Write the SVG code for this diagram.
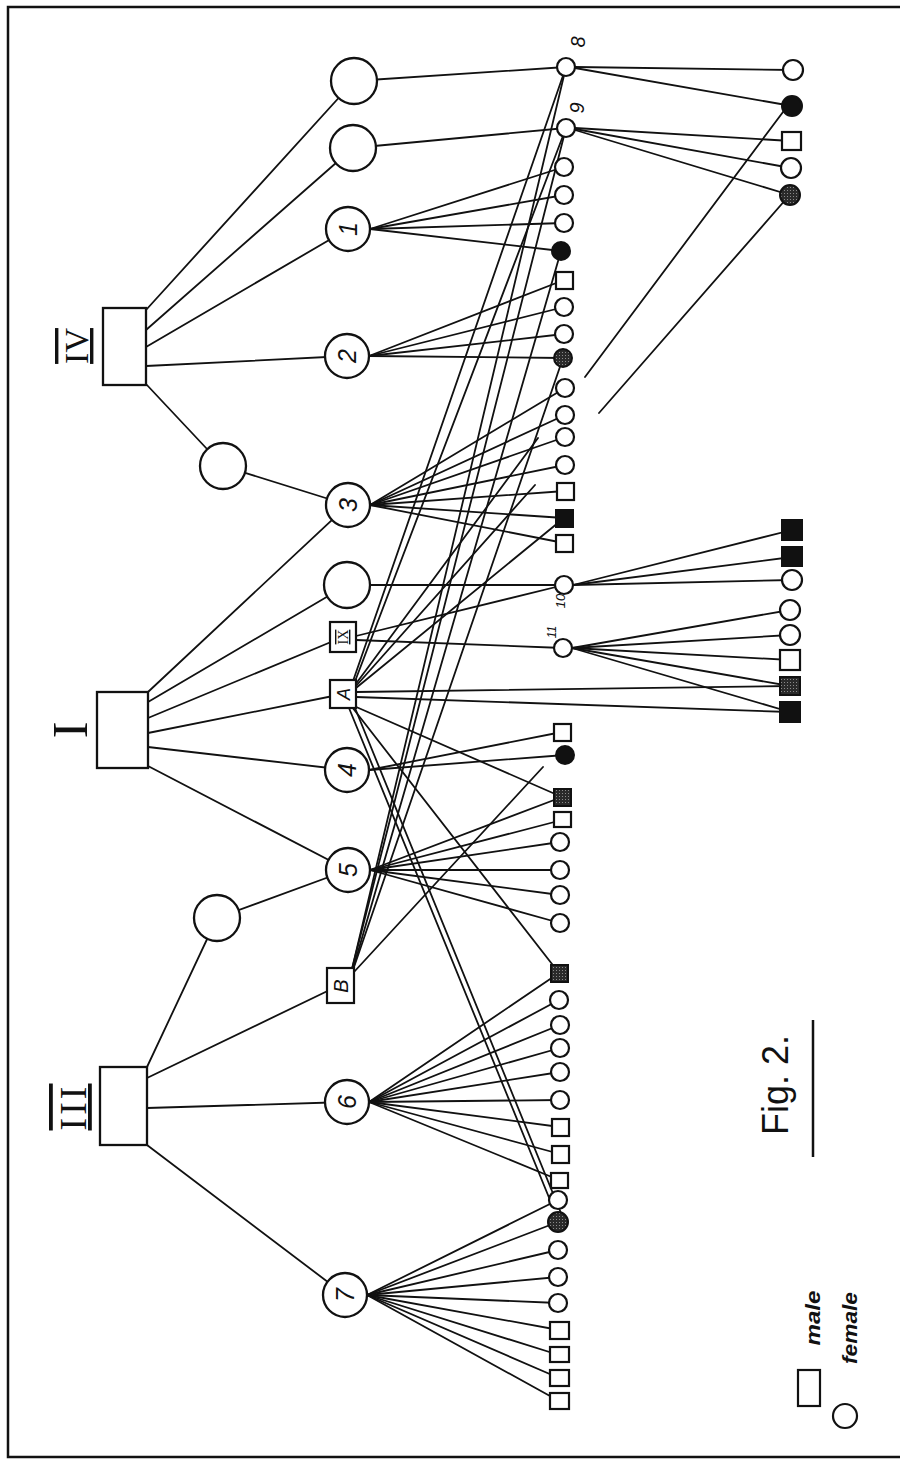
<svg xmlns="http://www.w3.org/2000/svg" width="902" height="1461" viewBox="0 0 902 1461">
<defs>
<pattern id="stip" width="3" height="3" patternUnits="userSpaceOnUse">
<rect width="3" height="3" fill="#2a2a2a"/>
<rect x="1" y="1" width="1" height="1" fill="#8a8a8a"/>
</pattern>
<style>
.ln{stroke:#111;stroke-width:1.8;fill:none;stroke-linecap:round}
.nd{fill:#fff;stroke:#111;stroke-width:2.3}
.sm{fill:#fff;stroke:#111;stroke-width:2.2}
.fl{fill:#111;stroke:#111;stroke-width:2}
.ht{fill:url(#stip);stroke:#111;stroke-width:2}
.rom{font-family:"Liberation Serif",serif;fill:#111;text-anchor:middle}
.hw{font-family:"Liberation Sans",sans-serif;font-style:italic;fill:#111;text-anchor:middle}
.up{font-family:"Liberation Sans",sans-serif;font-style:normal;fill:#111;text-anchor:middle}
.bar{text-decoration:overline underline}
.frame{fill:none;stroke:#111;stroke-width:2.5}
</style>
</defs>
<rect width="902" height="1461" fill="#fff"/>
<path class="frame" d="M900 7 L8 7 L8 1457 L900 1457"/>

<g id="connectors" class="ln">
<!-- generation IV -->
<line x1="146" y1="310" x2="354" y2="81"/>
<line x1="146" y1="330" x2="353" y2="148"/>
<line x1="146" y1="347" x2="348" y2="229"/>
<line x1="146" y1="366" x2="347" y2="356"/>
<line x1="146" y1="384" x2="223" y2="466"/>
<line x1="223" y1="466" x2="348" y2="505"/>
<!-- generation I -->
<line x1="148" y1="692" x2="348" y2="505"/>
<line x1="148" y1="702" x2="347" y2="585"/>
<line x1="148" y1="718" x2="343" y2="637"/>
<line x1="148" y1="733" x2="343" y2="694"/>
<line x1="148" y1="747" x2="347" y2="770"/>
<line x1="148" y1="766" x2="348" y2="870"/>
<line x1="217" y1="918" x2="348" y2="870"/>
<line x1="217" y1="918" x2="147" y2="1067"/>
<!-- generation III -->
<line x1="147" y1="1078" x2="340" y2="985"/>
<line x1="147" y1="1108" x2="347" y2="1102"/>
<line x1="147" y1="1145" x2="345" y2="1295"/>
<!-- top circles to 8 and 9 -->
<line x1="354" y1="81" x2="566" y2="67"/>
<line x1="353" y1="148" x2="566" y2="128"/>
<!-- fan 1 -->
<line x1="370" y1="229" x2="564" y2="167"/>
<line x1="370" y1="229" x2="564" y2="195"/>
<line x1="370" y1="229" x2="564" y2="223"/>
<line x1="370" y1="229" x2="561" y2="251"/>
<!-- fan 2 -->
<line x1="369" y1="356" x2="564" y2="280"/>
<line x1="369" y1="356" x2="564" y2="307"/>
<line x1="369" y1="356" x2="564" y2="334"/>
<line x1="369" y1="356" x2="563" y2="358"/>
<!-- fan 3 -->
<line x1="370" y1="505" x2="565" y2="388"/>
<line x1="370" y1="505" x2="565" y2="415"/>
<line x1="370" y1="505" x2="565" y2="437"/>
<line x1="370" y1="505" x2="565" y2="465"/>
<line x1="370" y1="505" x2="565" y2="491"/>
<line x1="370" y1="505" x2="564" y2="518"/>
<line x1="370" y1="505" x2="564" y2="543"/>
<!-- unnamed circle and IX to 10 / 11 -->
<line x1="347" y1="585" x2="564" y2="585"/>
<line x1="356" y1="636" x2="564" y2="585"/>
<line x1="356" y1="640" x2="563" y2="648"/>
<!-- fan 4 -->
<line x1="369" y1="770" x2="562" y2="732"/>
<line x1="369" y1="770" x2="565" y2="755"/>
<!-- fan 5 -->
<line x1="370" y1="870" x2="562" y2="797"/>
<line x1="370" y1="870" x2="562" y2="820"/>
<line x1="370" y1="870" x2="560" y2="842"/>
<line x1="370" y1="870" x2="560" y2="870"/>
<line x1="370" y1="870" x2="560" y2="895"/>
<line x1="370" y1="870" x2="560" y2="923"/>
<!-- fan 6 -->
<line x1="369" y1="1102" x2="559" y2="973"/>
<line x1="369" y1="1102" x2="559" y2="1000"/>
<line x1="369" y1="1102" x2="560" y2="1025"/>
<line x1="369" y1="1102" x2="560" y2="1048"/>
<line x1="369" y1="1102" x2="560" y2="1072"/>
<line x1="369" y1="1102" x2="560" y2="1100"/>
<line x1="369" y1="1102" x2="560" y2="1127"/>
<line x1="369" y1="1102" x2="560" y2="1154"/>
<line x1="369" y1="1102" x2="559" y2="1180"/>
<!-- fan 7 -->
<line x1="367" y1="1295" x2="558" y2="1200"/>
<line x1="367" y1="1295" x2="558" y2="1222"/>
<line x1="367" y1="1295" x2="558" y2="1250"/>
<line x1="367" y1="1295" x2="558" y2="1277"/>
<line x1="367" y1="1295" x2="558" y2="1303"/>
<line x1="367" y1="1295" x2="559" y2="1330"/>
<line x1="367" y1="1295" x2="559" y2="1355"/>
<line x1="367" y1="1295" x2="559" y2="1378"/>
<line x1="367" y1="1295" x2="559" y2="1401"/>
<!-- A -->
<line x1="352" y1="684" x2="566" y2="67"/>
<line x1="354" y1="684" x2="566" y2="128"/>
<line x1="355" y1="685" x2="538" y2="438"/>
<line x1="356" y1="686" x2="535" y2="485"/>
<line x1="356" y1="688" x2="564" y2="518"/>
<line x1="356" y1="692" x2="790" y2="686"/>
<line x1="356" y1="697" x2="790" y2="712"/>
<line x1="354" y1="706" x2="562" y2="797"/>
<line x1="352" y1="707" x2="559" y2="973"/>
<line x1="349" y1="708" x2="550" y2="1200"/>
<line x1="355" y1="708" x2="563" y2="1218"/>
<!-- B -->
<line x1="352" y1="969" x2="566" y2="67"/>
<line x1="352" y1="969" x2="566" y2="128"/>
<line x1="353" y1="969" x2="561" y2="251"/>
<line x1="353" y1="970" x2="563" y2="358"/>
<line x1="354" y1="972" x2="543" y2="767"/>
<!-- 8 and 9 -->
<line x1="575" y1="67" x2="793" y2="70"/>
<line x1="575" y1="68" x2="792" y2="106"/>
<line x1="575" y1="128" x2="791" y2="141"/>
<line x1="575" y1="129" x2="791" y2="168"/>
<line x1="575" y1="130" x2="790" y2="195"/>
<line x1="786" y1="108" x2="585" y2="377"/>
<line x1="787" y1="198" x2="599" y2="413"/>
<!-- 10 and 11 -->
<line x1="573" y1="585" x2="792" y2="530"/>
<line x1="573" y1="585" x2="792" y2="557"/>
<line x1="573" y1="585" x2="792" y2="580"/>
<line x1="572" y1="648" x2="790" y2="610"/>
<line x1="572" y1="648" x2="790" y2="635"/>
<line x1="572" y1="648" x2="790" y2="660"/>
<line x1="572" y1="648" x2="790" y2="686"/>
<line x1="572" y1="648" x2="790" y2="712"/>
</g>

<!-- founders -->
<g id="gen-IV"><rect class="nd" x="103" y="308" width="43" height="77"/><text class="rom bar" font-size="34" transform="translate(88 346) rotate(-90)">IV</text></g>
<g id="gen-I"><rect class="nd" x="97" y="692" width="51" height="76"/><text class="rom" font-size="50" transform="translate(87 730) rotate(-90)">I</text></g>
<g id="gen-III"><rect class="nd" x="100" y="1067" width="47" height="78"/><text class="rom bar" font-size="38" letter-spacing="3" transform="translate(86 1107) rotate(-90)">III</text></g>

<!-- second level -->
<g id="w-top1"><circle class="nd" cx="354" cy="81" r="23"/></g>
<g id="w-top2"><circle class="nd" cx="353" cy="148" r="23"/></g>
<g id="n1"><circle class="nd" cx="348" cy="229" r="22"/><text class="hw" font-size="25" transform="translate(357 229) rotate(-90)">1</text></g>
<g id="n2"><circle class="nd" cx="347" cy="356" r="22"/><text class="hw" font-size="25" transform="translate(356 356) rotate(-90)">2</text></g>
<g id="w-mid"><circle class="nd" cx="223" cy="466" r="23"/></g>
<g id="n3"><circle class="nd" cx="348" cy="505" r="22"/><text class="hw" font-size="25" transform="translate(357 505) rotate(-90)">3</text></g>
<g id="w-585"><circle class="nd" cx="347" cy="585" r="23"/></g>
<g id="nIX"><rect class="sm" x="330" y="622" width="26" height="30"/><text class="rom bar" font-size="14" transform="translate(348 637) rotate(-90)">IX</text></g>
<g id="nA"><rect class="sm" x="330" y="680" width="26" height="28"/><text class="hw" font-size="18" transform="translate(350 694) rotate(-90)">A</text></g>
<g id="n4"><circle class="nd" cx="347" cy="770" r="22"/><text class="hw" font-size="25" transform="translate(356 770) rotate(-90)">4</text></g>
<g id="n5"><circle class="nd" cx="348" cy="870" r="22"/><text class="hw" font-size="25" transform="translate(357 870) rotate(-90)">5</text></g>
<g id="w-low"><circle class="nd" cx="217" cy="918" r="23"/></g>
<g id="nB"><rect class="sm" x="327" y="968" width="27" height="35"/><text class="hw" font-size="20" transform="translate(348 986) rotate(-90)">B</text></g>
<g id="n6"><circle class="nd" cx="347" cy="1102" r="22"/><text class="hw" font-size="25" transform="translate(356 1102) rotate(-90)">6</text></g>
<g id="n7"><circle class="nd" cx="345" cy="1295" r="22"/><text class="hw" font-size="25" transform="translate(354 1295) rotate(-90)">7</text></g>

<!-- column of children -->
<g id="n8"><circle class="sm" cx="566" cy="67" r="9"/><text class="hw" font-size="20" transform="translate(585 42) rotate(-90)">8</text></g>
<g id="n9"><circle class="sm" cx="566" cy="128" r="9"/><text class="hw" font-size="20" transform="translate(584 108) rotate(-90)">9</text></g>
<g id="k167"><circle class="sm" cx="564" cy="167" r="9"/></g>
<g id="k195"><circle class="sm" cx="564" cy="195" r="9"/></g>
<g id="k223"><circle class="sm" cx="564" cy="223" r="9"/></g>
<g id="k251"><circle class="fl" cx="561" cy="251" r="9"/></g>
<g id="k280"><rect class="sm" x="556" y="272" width="17" height="17"/></g>
<g id="k307"><circle class="sm" cx="564" cy="307" r="9"/></g>
<g id="k334"><circle class="sm" cx="564" cy="334" r="9"/></g>
<g id="k358"><circle class="ht" cx="563" cy="358" r="9"/></g>
<g id="k388"><circle class="sm" cx="565" cy="388" r="9"/></g>
<g id="k415"><circle class="sm" cx="565" cy="415" r="9"/></g>
<g id="k437"><circle class="sm" cx="565" cy="437" r="9"/></g>
<g id="k465"><circle class="sm" cx="565" cy="465" r="9"/></g>
<g id="k491"><rect class="sm" x="557" y="483" width="17" height="17"/></g>
<g id="k518"><rect class="fl" x="556" y="510" width="17" height="17"/></g>
<g id="k543"><rect class="sm" x="556" y="535" width="17" height="17"/></g>
<g id="n10"><circle class="sm" cx="564" cy="585" r="9"/><text class="hw" font-size="13" transform="translate(565 601) rotate(-90)">10</text></g>
<g id="n11"><circle class="sm" cx="563" cy="648" r="9"/><text class="hw" font-size="12" transform="translate(556 632) rotate(-90)">11</text></g>
<g id="k732"><rect class="sm" x="554" y="724" width="17" height="17"/></g>
<g id="k755"><circle class="fl" cx="565" cy="755" r="9"/></g>
<g id="k797"><rect class="ht" x="554" y="789" width="17" height="17"/></g>
<g id="k820"><rect class="sm" x="554" y="812" width="17" height="15"/></g>
<g id="k842"><circle class="sm" cx="560" cy="842" r="9"/></g>
<g id="k870"><circle class="sm" cx="560" cy="870" r="9"/></g>
<g id="k895"><circle class="sm" cx="560" cy="895" r="9"/></g>
<g id="k923"><circle class="sm" cx="560" cy="923" r="9"/></g>
<g id="k973"><rect class="ht" x="551" y="965" width="17" height="17"/></g>
<g id="k1000"><circle class="sm" cx="559" cy="1000" r="9"/></g>
<g id="k1025"><circle class="sm" cx="560" cy="1025" r="9"/></g>
<g id="k1048"><circle class="sm" cx="560" cy="1048" r="9"/></g>
<g id="k1072"><circle class="sm" cx="560" cy="1072" r="9"/></g>
<g id="k1100"><circle class="sm" cx="560" cy="1100" r="9"/></g>
<g id="k1127"><rect class="sm" x="552" y="1119" width="17" height="17"/></g>
<g id="k1154"><rect class="sm" x="552" y="1146" width="17" height="17"/></g>
<g id="k1180"><rect class="sm" x="551" y="1173" width="17" height="15"/></g>
<g id="k1200"><circle class="sm" cx="558" cy="1200" r="9"/></g>
<g id="k1222"><circle class="ht" cx="558" cy="1222" r="10"/></g>
<g id="k1250"><circle class="sm" cx="558" cy="1250" r="9"/></g>
<g id="k1277"><circle class="sm" cx="558" cy="1277" r="9"/></g>
<g id="k1303"><circle class="sm" cx="558" cy="1303" r="9"/></g>
<g id="k1330"><rect class="sm" x="550" y="1322" width="19" height="17"/></g>
<g id="k1355"><rect class="sm" x="550" y="1347" width="19" height="15"/></g>
<g id="k1378"><rect class="sm" x="550" y="1370" width="19" height="16"/></g>
<g id="k1401"><rect class="sm" x="550" y="1393" width="19" height="16"/></g>

<!-- far right grandchildren -->
<g id="r70"><circle class="sm" cx="793" cy="70" r="10"/></g>
<g id="r106"><circle class="fl" cx="792" cy="106" r="10"/></g>
<g id="r141"><rect class="sm" x="782" y="132" width="19" height="18"/></g>
<g id="r168"><circle class="sm" cx="791" cy="168" r="10"/></g>
<g id="r195"><circle class="ht" cx="790" cy="195" r="10"/></g>
<g id="r530"><rect class="fl" x="782" y="520" width="20" height="20"/></g>
<g id="r557"><rect class="fl" x="782" y="547" width="20" height="19"/></g>
<g id="r580"><circle class="sm" cx="792" cy="580" r="10"/></g>
<g id="r610"><circle class="sm" cx="790" cy="610" r="10"/></g>
<g id="r635"><circle class="sm" cx="790" cy="635" r="10"/></g>
<g id="r660"><rect class="sm" x="780" y="650" width="20" height="20"/></g>
<g id="r686"><rect class="ht" x="780" y="677" width="20" height="18"/></g>
<g id="r712"><rect class="fl" x="780" y="702" width="20" height="20"/></g>

<!-- caption and legend -->
<g id="caption"><text class="up" font-size="36" transform="translate(788 1085) rotate(-90)">Fig. 2.</text><line x1="813" y1="1020" x2="813" y2="1157" stroke="#111" stroke-width="2.5"/></g>
<g id="legend-male"><rect class="sm" x="798" y="1370" width="22" height="36"/><text class="hw" font-size="21" font-weight="bold" textLength="55" lengthAdjust="spacingAndGlyphs" transform="translate(820 1318) rotate(-90)">male</text></g>
<g id="legend-female"><circle class="sm" cx="845" cy="1416" r="12"/><text class="hw" font-size="21" font-weight="bold" textLength="72" lengthAdjust="spacingAndGlyphs" transform="translate(857 1328) rotate(-90)">female</text></g>
</svg>
